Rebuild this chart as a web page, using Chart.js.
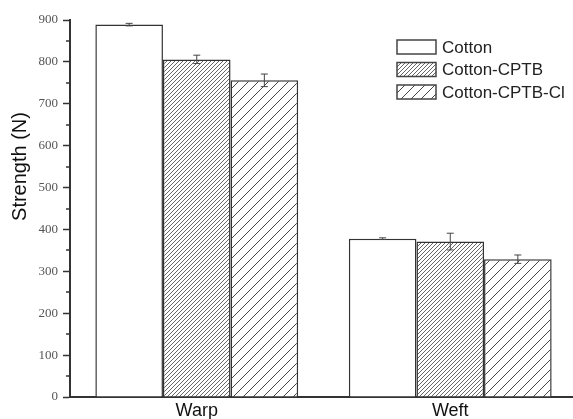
<!DOCTYPE html>
<html>
<head>
<meta charset="utf-8">
<script src="https://cdn.jsdelivr.net/npm/chart.js@4.4.0/dist/chart.umd.min.js"></script>
<style>
  html, body { margin: 0; padding: 0; background: #fff; overflow: hidden; }
  #wrap { width: 577px; height: 419px; }
</style>
</head>
<body>
<div id="wrap"><canvas id="chart" width="577" height="419"></canvas></div>
<script>
// values
var categories = ['Warp', 'Weft'];
var seriesNames = ['Cotton', 'Cotton-CPTB', 'Cotton-CPTB-Cl'];
var cotton = [889, 378];
var cottonErr = [3, 2];
var cptb = [806, 371];
var cptbErr = [10, 20];
var cptbCl = [756, 329];
var cptbClErr = [15, 10];
var yTicks = [0, 100, 200, 300, 400, 500, 600, 700, 800, 900];

// hatch pattern, "/" lines with given spacing
function hatch(spacing, color) {
    var c = document.createElement('canvas');
    c.width = spacing;
    c.height = spacing;
    var g = c.getContext('2d');
    g.fillStyle = '#fff';
    g.fillRect(0, 0, spacing, spacing);
    g.strokeStyle = color;
    g.lineWidth = 1;
    g.beginPath();
    g.moveTo(-1, spacing + 1);
    g.lineTo(spacing + 1, -1);
    g.moveTo(-1, 1);
    g.lineTo(1, -1);
    g.moveTo(spacing - 1, spacing + 1);
    g.lineTo(spacing + 1, spacing - 1);
    g.stroke();
    return g.createPattern(c, 'repeat');
}

var ctx = document.getElementById('chart').getContext('2d');

var fills = ['#ffffff', hatch(4, '#666'), hatch(10, '#444')];
var errs = [cottonErr, cptbErr, cptbClErr];

// error bars from the y scale
var errorBars = {
    id: 'errorBars',
    afterDatasetsDraw: function (chart) {
        var y = chart.scales.y;
        var c = chart.ctx;
        c.save();
        c.strokeStyle = '#444';
        c.lineWidth = 1;
        chart.data.datasets.forEach(function (ds, i) {
            var meta = chart.getDatasetMeta(i);
            meta.data.forEach(function (bar, j) {
                var v = ds.data[j];
                var e = errs[i][j];
                var top = y.getPixelForValue(v + e);
                var bot = y.getPixelForValue(v - e);
                c.beginPath();
                c.moveTo(bar.x, top);
                c.lineTo(bar.x, bot);
                c.moveTo(bar.x - 3.5, top);
                c.lineTo(bar.x + 3.5, top);
                c.moveTo(bar.x - 3.5, bot);
                c.lineTo(bar.x + 3.5, bot);
                c.stroke();
            });
        });
        c.restore();
    }
};

// minor ticks, y title and the legend box
var extras = {
    id: 'extras',
    afterDraw: function (chart) {
        var y = chart.scales.y;
        var area = chart.chartArea;
        var c = chart.ctx;
        c.save();
        c.strokeStyle = '#333';
        c.lineWidth = 1.5;
        for (var k = 0; k < yTicks.length - 1; k++) {
            var py = Math.round(y.getPixelForValue((yTicks[k] + yTicks[k + 1]) / 2));
            c.beginPath();
            c.moveTo(area.left - 4, py);
            c.lineTo(area.left, py);
            c.stroke();
        }

        c.fillStyle = '#111';
        c.font = '20px "Liberation Sans", Arial, sans-serif';
        c.textAlign = 'center';
        c.textBaseline = 'middle';
        c.translate(20, (area.top + area.bottom) / 2 - 42);
        c.rotate(-Math.PI / 2);
        c.fillText('Strength (N)', 0, 0);
        c.restore();

        // legend
        c.save();
        var lx = area.left + 327;
        var ly = area.top + 27;
        c.font = '17px "Liberation Sans", Arial, sans-serif';
        c.textBaseline = 'middle';
        c.textAlign = 'left';
        chart.data.datasets.forEach(function (ds, i) {
            var cy = ly + i * 22.5;
            c.fillStyle = ds.backgroundColor;
            c.fillRect(lx, cy - 7, 39, 14);
            c.strokeStyle = '#444';
            c.lineWidth = 1.5;
            c.strokeRect(lx, cy - 7, 39, 14);
            c.fillStyle = '#222';
            c.fillText(ds.label, lx + 45, cy + 1);
        });
        c.restore();
    }
};

var config = {
    type: 'bar',
    data: {
        labels: categories,
        datasets: [cotton, cptb, cptbCl].map(function (vals, i) {
            return {
                label: seriesNames[i],
                data: vals,
                backgroundColor: fills[i],
                borderColor: '#333',
                borderWidth: 1.5,
                borderSkipped: 'bottom',
                categoryPercentage: 0.8,
                barPercentage: 1.0
            };
        })
    },
    options: {
        responsive: false,
        animation: false,
        layout: { padding: { top: 20, right: 0, left: 0, bottom: 0 } },
        plugins: {
            legend: { display: false },
            tooltip: { enabled: false }
        },
        scales: {
            x: {
                grid: { display: false, drawTicks: false },
                border: { display: true, color: '#333', width: 2 },
                ticks: {
                    color: '#111',
                    padding: 3,
                    font: { family: '"Liberation Sans", Arial, sans-serif', size: 18 }
                },
                afterFit: function (scale) { scale.height = 22; }
            },
            y: {
                min: 0,
                max: 900,
                afterBuildTicks: function (scale) {
                    scale.ticks = yTicks.map(function (v) { return { value: v }; });
                },
                grid: {
                    drawOnChartArea: false,
                    drawTicks: true,
                    tickLength: 7,
                    tickColor: '#333',
                    tickWidth: 1.5
                },
                border: { display: true, color: '#333', width: 2 },
                ticks: {
                    color: '#555',
                    padding: 5,
                    font: { family: '"Liberation Serif", "Times New Roman", serif', size: 13 }
                },
                afterFit: function (scale) { scale.width = 70; }
            }
        }
    },
    plugins: [errorBars, extras]
};

window.myBar = new Chart(ctx, config);
</script>
</body>
</html>
